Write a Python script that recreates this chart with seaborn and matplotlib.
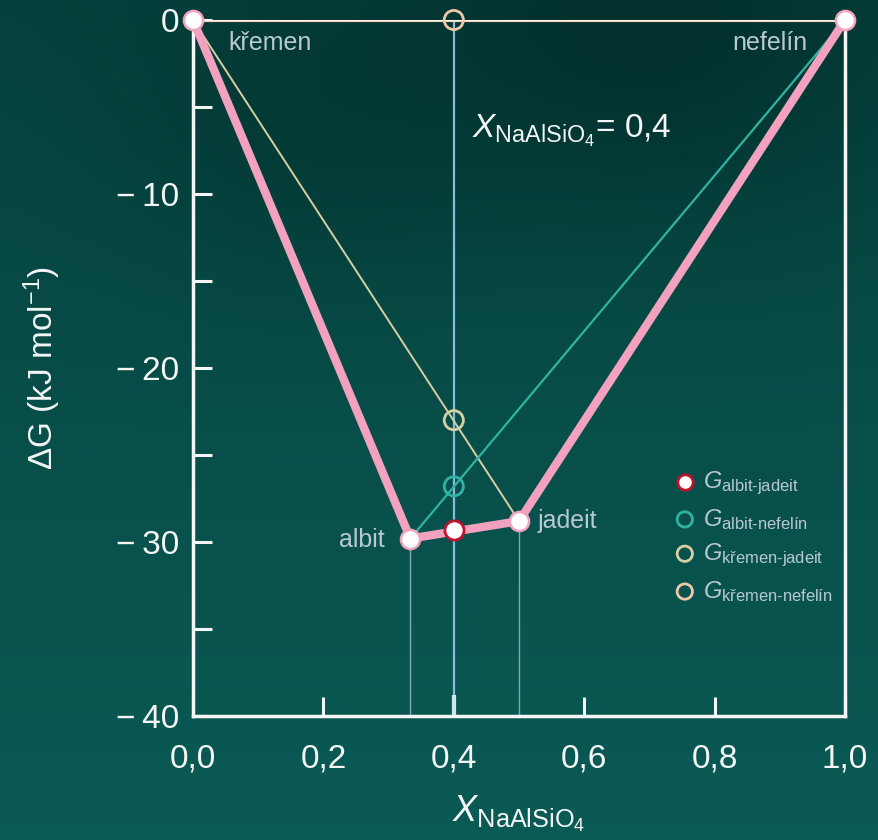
import numpy as np
import pandas as pd
import matplotlib
matplotlib.use('Agg')
import matplotlib.pyplot as plt
import seaborn as sns

# minerály na spodní obálce
minerals = ['křemen', 'albit', 'jadeit', 'nefelín']
x_min = [0.0, 1/3, 0.5, 1.0]
g_min = [0.0, -29.8, -28.8, 0.0]

# složení systému a hodnoty G pro jednotlivé páry
x_bulk = 0.4
pairs = ['albit-jadeit', 'albit-nefelín', 'křemen-jadeit', 'křemen-nefelín']
g_bulk = [-29.3, -26.8, -23.0, 0.0]

x_ticks = [0.0, 0.2, 0.4, 0.6, 0.8, 1.0]
x_ticklabels = ['0,0', '0,2', '0,4', '0,6', '0,8', '1,0']
y_ticks = [0, -10, -20, -30, -40]
y_ticklabels = ['0', '\u2212\u200910', '\u2212\u200920', '\u2212\u200930', '\u2212\u200940']

sns.set_style('ticks')
plt.rcParams['font.family'] = ['Liberation Sans', 'DejaVu Sans']
plt.rcParams['mathtext.fontset'] = 'custom'
plt.rcParams['mathtext.rm'] = 'Liberation Sans'
plt.rcParams['mathtext.it'] = 'Liberation Sans:italic'

WHITE = '#f4f6f6'
PINK = '#f2a2be'
TAN = '#d6cfa6'
TEAL = '#2fb3a2'
PEACH = '#eec9a8'
BLUE = '#86bcd6'
LABEL = '#b9c9d0'

fig = plt.figure(figsize=(8.79, 8.40), dpi=100)

# pozadí - tmavý tyrkysový přechod
bg = fig.add_axes([0, 0, 1, 1], zorder=-5)
yy, xx = np.mgrid[0:1:200j, 0:1:200j]
img = 0.5 * yy + 0.35
img -= 0.35 * np.exp(-((xx - 0.75) ** 2 / 0.08 + (yy - 0.05) ** 2 / 0.05))
img -= 0.2 * np.exp(-((xx - 0.35) ** 2 / 0.05 + (yy - 0.15) ** 2 / 0.04))
img = np.clip(img, 0, 1)
c0 = np.array([0x02, 0x30, 0x2c]) / 255
c1 = np.array([0x0c, 0x62, 0x5d]) / 255
rgb = c0 + img[..., None] * (c1 - c0)
bg.imshow(rgb, aspect='auto', extent=[0, 1, 0, 1], origin='upper')
bg.axis('off')

ax = fig.add_axes([0.2196, 0.1476, 0.7417, 0.8286])
ax.patch.set_alpha(0)

# svislé čáry
ax.vlines([x_min[1], x_min[2]], [g_min[1], g_min[2]], -40, color='#7fa8b8', lw=1.0, zorder=1)
ax.vlines(x_bulk, 0, -40, color=BLUE, lw=1.6, zorder=1)
ax.vlines(x_bulk, -40, -38.8, color='#cfe6f0', lw=3.0, zorder=2)

# spojnice
sns.lineplot(x=[x_min[0], x_min[3]], y=[g_min[0], g_min[3]], color=PEACH, lw=3, ax=ax, zorder=2)
sns.lineplot(x=[x_min[0], x_min[3]], y=[g_min[0], g_min[3]], color='#fff6ee', lw=1, ax=ax, zorder=2)
sns.lineplot(x=[x_min[0], x_min[2]], y=[g_min[0], g_min[2]], color=TAN, lw=1.4, ax=ax, zorder=2)
sns.lineplot(x=[x_min[1], x_min[3]], y=[g_min[1], g_min[3]], color=TEAL, lw=1.6, ax=ax, zorder=2)
sns.lineplot(x=x_min, y=g_min, sort=False, color=PINK, lw=6, ax=ax, zorder=3)

# body minerálů
ax.scatter(x_min, g_min, s=190, facecolor='white', edgecolor=PINK, lw=1.8, zorder=6, clip_on=False)

# body při X = 0.4
face = ['white', 'none', 'none', 'none']
edge = ['#c0142c', TEAL, TAN, PEACH]
for g, p, fc, ec in zip(g_bulk, pairs, face, edge):
    ax.scatter([x_bulk], [g], s=190, facecolor=fc, edgecolor=ec, lw=2.0, zorder=7,
               label=r'$G_{\text{%s}}$' % p, clip_on=False)

# popisky minerálů
ax.text(0.054, -1.3, minerals[0], color=LABEL, fontsize=18, ha='left', va='center')
ax.text(0.943, -1.3, minerals[3], color=LABEL, fontsize=18, ha='right', va='center')
ax.text(0.294, -29.9, minerals[1], color=LABEL, fontsize=18, ha='right', va='center')
ax.text(0.528, -28.8, minerals[2], color=LABEL, fontsize=18, ha='left', va='center')
ax.text(0.428, -6.4, r'$X_{\mathrm{NaAlSiO_4}}$= 0,4', color=WHITE, fontsize=24,
        ha='left', va='center')

ax.set_xlim(0, 1)
ax.set_ylim(-40, 0)
ax.set_xticks(x_ticks)
ax.set_xticklabels(x_ticklabels)
ax.set_yticks(y_ticks)
ax.set_yticklabels(y_ticklabels)
ax.set_yticks([-35, -25, -15, -5], minor=True)
ax.tick_params(axis='both', which='both', direction='in', length=14, width=2.2,
               colors=WHITE, labelsize=24)
ax.tick_params(axis='y', pad=10)
ax.tick_params(axis='x', pad=20)
for s in ['left', 'bottom', 'right']:
    ax.spines[s].set_color(WHITE)
    ax.spines[s].set_linewidth(2.5)
ax.spines['top'].set_visible(False)

ax.set_xlabel(r'$X_{\mathrm{NaAlSiO_4}}$', color=WHITE, fontsize=26, labelpad=14)
ax.set_ylabel(r'$\Delta$G (kJ mol$^{-1}$)', color=WHITE, fontsize=24, labelpad=38)

leg = ax.legend(loc='upper left', bbox_to_anchor=(0.70, 0.385), frameon=False,
                fontsize=17, labelspacing=0.42, handletextpad=0.15, markerscale=0.8,
                handlelength=1.2, labelcolor=LABEL)

fig.savefig('out.png', dpi=100, facecolor=fig.get_facecolor())
